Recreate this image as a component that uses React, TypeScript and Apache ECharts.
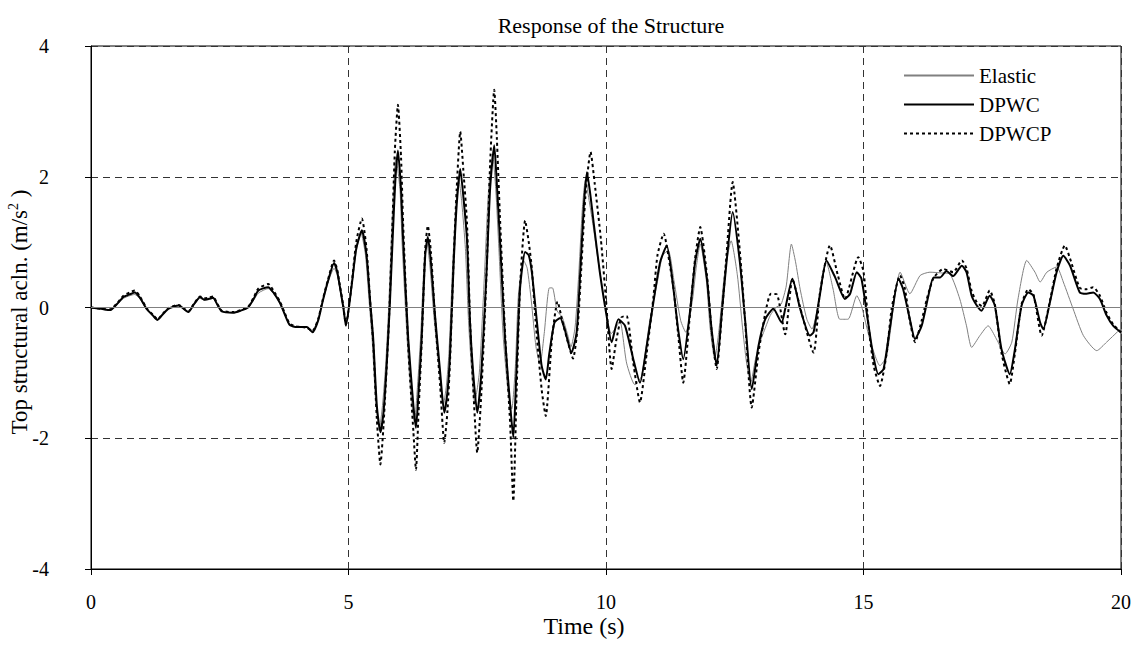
import React, { useEffect, useRef } from "react";
import * as echarts from "echarts";

const xTicks = [0, 5, 10, 15, 20];
const yTicks = [-4, -2, 0, 2, 4];

const elastic: [number, number][] = [
  [0, 0], [0.2, -0.02], [0.37, -0.04], [0.5, 0.04], [0.63, 0.14], [0.75, 0.18], [0.85, 0.2], [0.95, 0.13],
  [1.08, -0.02], [1.2, -0.12], [1.29, -0.18], [1.4, -0.1], [1.5, -0.02], [1.7, 0.03], [1.89, -0.07], [2.0, 0.04],
  [2.12, 0.14], [2.2, 0.11], [2.28, 0.12], [2.37, 0.14], [2.45, 0.04], [2.54, -0.06], [2.76, -0.08], [2.9, -0.05],
  [3.05, 0], [3.15, 0.1], [3.25, 0.22], [3.44, 0.29], [3.55, 0.21], [3.67, 0.06], [3.76, -0.1], [3.86, -0.26],
  [4.0, -0.3], [4.19, -0.3], [4.3, -0.35], [4.41, -0.18], [4.5, 0.1], [4.6, 0.38], [4.72, 0.6], [4.78, 0.5],
  [4.83, 0.3], [4.9, 0], [4.95, -0.25], [5.06, 0.3], [5.15, 0.85], [5.24, 1.15], [5.33, 0.8], [5.4, 0.1],
  [5.46, -0.5], [5.53, -1.45], [5.6, -1.85], [5.66, -1.5], [5.72, -0.9], [5.78, 0.0], [5.84, 1.2], [5.92, 2.3],
  [6.0, 1.8], [6.04, 1.0], [6.14, -0.5], [6.22, -1.4], [6.28, -1.75], [6.34, -1.2], [6.4, -0.45], [6.47, 0.7],
  [6.52, 1.0], [6.58, 0.65], [6.66, -0.15], [6.76, -0.95], [6.84, -1.5], [6.9, -1.2], [6.95, -0.7], [7.02, 0.6],
  [7.08, 1.5], [7.14, 1.98], [7.2, 1.6], [7.27, 0.9], [7.33, -0.2], [7.39, -0.95], [7.45, -1.45], [7.54, -1.0],
  [7.64, 0.5], [7.72, 1.8], [7.8, 2.33], [7.86, 1.8], [7.92, 0.9], [8.0, -0.4], [8.1, -1.3], [8.17, -1.55],
  [8.24, -0.9], [8.3, 0.2], [8.4, 0.72], [8.47, 0.6], [8.55, 0.1], [8.64, -0.6], [8.72, -0.87], [8.8, -0.4],
  [8.9, 0.3], [8.96, 0.3], [9.05, -0.05], [9.15, -0.15], [9.25, -0.4], [9.32, -0.6], [9.4, -0.3], [9.47, 0.5],
  [9.54, 1.5], [9.6, 1.95], [9.68, 1.6], [9.75, 1.25], [9.85, 0.7], [9.94, 0.24], [10.03, -0.2], [10.1, -0.4],
  [10.2, -0.3], [10.27, -0.2], [10.4, -0.85], [10.56, -1.18], [10.69, -1.05], [10.85, -0.2], [11.0, 0.4],
  [11.1, 0.8], [11.21, 0.87], [11.32, 0.41], [11.45, -0.2], [11.55, -0.38], [11.68, 0.12], [11.75, 0.6],
  [11.83, 0.97], [11.95, 0.4], [12.02, -0.3], [12.11, -0.79], [12.2, -0.3], [12.3, 0.5], [12.43, 1.02],
  [12.55, 0.5], [12.65, -0.3], [12.73, -0.85], [12.81, -1.15], [12.9, -0.8], [12.99, -0.53], [13.1, -0.3],
  [13.19, -0.12], [13.3, 0.0], [13.4, 0.05], [13.5, 0.33], [13.6, 0.97], [13.68, 0.7], [13.77, 0.28],
  [13.9, -0.18], [14.0, -0.33], [14.12, 0.03], [14.28, 0.69], [14.41, 0.28], [14.54, -0.18], [14.7, -0.18],
  [14.87, 0.18], [14.96, 0.03], [15.12, -0.48], [15.32, -0.89], [15.45, -0.74], [15.61, 0.18], [15.71, 0.54],
  [15.9, 0.21], [16.1, 0.49], [16.29, 0.54], [16.49, 0.53], [16.68, 0.51], [16.87, 0.13], [17.0, -0.28],
  [17.1, -0.61], [17.26, -0.43], [17.42, -0.28], [17.58, -0.48], [17.75, -0.71], [17.88, -0.53], [18.0, 0.13],
  [18.17, 0.72], [18.33, 0.54], [18.43, 0.39], [18.56, 0.54], [18.75, 0.62], [18.88, 0.39], [19.07, -0.02],
  [19.27, -0.43], [19.53, -0.66], [19.72, -0.53], [20, -0.32],
];

const dpwc: [number, number][] = [
  [0, 0], [0.2, -0.02], [0.37, -0.04], [0.5, 0.05], [0.63, 0.16], [0.75, 0.2], [0.85, 0.23], [0.95, 0.15],
  [1.08, -0.02], [1.2, -0.12], [1.29, -0.19], [1.4, -0.1], [1.5, -0.02], [1.7, 0.03], [1.89, -0.07], [2.0, 0.05],
  [2.12, 0.16], [2.2, 0.12], [2.28, 0.13], [2.37, 0.15], [2.45, 0.05], [2.54, -0.06], [2.76, -0.08], [2.9, -0.05],
  [3.05, 0], [3.15, 0.12], [3.25, 0.26], [3.44, 0.31], [3.55, 0.22], [3.67, 0.07], [3.76, -0.1], [3.86, -0.27],
  [4.0, -0.3], [4.19, -0.3], [4.3, -0.38], [4.41, -0.2], [4.5, 0.1], [4.6, 0.4], [4.72, 0.68], [4.78, 0.55],
  [4.83, 0.33], [4.9, 0], [4.95, -0.28], [5.06, 0.33], [5.15, 0.9], [5.26, 1.18], [5.35, 0.8], [5.42, 0.1],
  [5.48, -0.48], [5.55, -1.5], [5.62, -1.91], [5.68, -1.6], [5.74, -0.9], [5.8, 0.0], [5.86, 1.1], [5.91, 1.95],
  [5.96, 2.4], [6.02, 1.8], [6.06, 1.05], [6.16, -0.48], [6.26, -1.5], [6.31, -1.84], [6.36, -1.3], [6.42, -0.48],
  [6.49, 0.8], [6.54, 1.08], [6.6, 0.7], [6.68, -0.12], [6.78, -0.99], [6.86, -1.61], [6.92, -1.3], [6.97, -0.74],
  [7.04, 0.64], [7.1, 1.56], [7.17, 2.12], [7.23, 1.7], [7.3, 1.05], [7.36, -0.23], [7.42, -0.99], [7.5, -1.61],
  [7.58, -0.99], [7.68, 0.54], [7.75, 1.82], [7.83, 2.48], [7.88, 1.9], [7.94, 1.05], [8.04, -0.48], [8.14, -1.5],
  [8.2, -1.99], [8.26, -0.99], [8.33, 0.28], [8.43, 0.85], [8.5, 0.8], [8.56, 0.54], [8.66, -0.23], [8.75, -0.89],
  [8.83, -1.1], [8.9, -0.7], [9.0, -0.23], [9.11, -0.16], [9.2, -0.34], [9.33, -0.69], [9.43, -0.38], [9.5, 0.54],
  [9.57, 1.56], [9.63, 2.07], [9.7, 1.7], [9.76, 1.3], [9.88, 0.54], [10.01, -0.12], [10.11, -0.53], [10.24, -0.18],
  [10.37, -0.28], [10.53, -0.79], [10.66, -1.15], [10.79, -0.59], [10.92, 0.08], [11.05, 0.69], [11.18, 0.95],
  [11.31, 0.28], [11.4, -0.33], [11.5, -0.79], [11.63, -0.07], [11.73, 0.69], [11.83, 1.05], [11.96, 0.44],
  [12.05, -0.33], [12.15, -0.89], [12.25, -0.07], [12.34, 0.69], [12.46, 1.46], [12.6, 0.69], [12.7, -0.18],
  [12.83, -1.25], [12.96, -0.59], [13.09, -0.18], [13.25, -0.02], [13.41, -0.23], [13.48, -0.02], [13.62, 0.44],
  [13.77, -0.02], [13.96, -0.43], [14.03, -0.38], [14.15, 0.18], [14.28, 0.72], [14.45, 0.46], [14.64, 0.13],
  [14.74, 0.21], [14.87, 0.54], [14.96, 0.44], [15.09, -0.23], [15.19, -0.74], [15.29, -1.02], [15.39, -0.94],
  [15.51, -0.33], [15.68, 0.44], [15.77, 0.28], [15.9, -0.18], [16.0, -0.48], [16.13, -0.28], [16.26, 0.18],
  [16.36, 0.46], [16.49, 0.46], [16.61, 0.56], [16.74, 0.48], [16.91, 0.64], [17.0, 0.54], [17.1, 0.18],
  [17.2, 0.03], [17.29, -0.05], [17.45, 0.18], [17.55, 0.03], [17.68, -0.64], [17.84, -1.02], [17.94, -0.64],
  [18.07, 0.03], [18.2, 0.23], [18.3, 0.18], [18.43, -0.23], [18.49, -0.33], [18.62, 0.08], [18.75, 0.54],
  [18.88, 0.79], [19.01, 0.64], [19.2, 0.23], [19.33, 0.21], [19.46, 0.23], [19.59, 0.13], [19.72, -0.12],
  [19.85, -0.28], [20, -0.38],
];

const dpwcp: [number, number][] = [
  [0, 0], [0.2, -0.02], [0.37, -0.03], [0.5, 0.06], [0.63, 0.18], [0.75, 0.23], [0.85, 0.26], [0.95, 0.17],
  [1.08, -0.01], [1.2, -0.11], [1.29, -0.18], [1.4, -0.09], [1.5, -0.01], [1.7, 0.04], [1.89, -0.06], [2.0, 0.06],
  [2.12, 0.17], [2.2, 0.14], [2.28, 0.15], [2.37, 0.17], [2.45, 0.06], [2.54, -0.05], [2.76, -0.07], [2.9, -0.04],
  [3.05, 0.01], [3.15, 0.14], [3.25, 0.29], [3.44, 0.36], [3.55, 0.25], [3.67, 0.09], [3.76, -0.08], [3.86, -0.25],
  [4.0, -0.29], [4.19, -0.31], [4.3, -0.36], [4.41, -0.18], [4.5, 0.12], [4.6, 0.42], [4.72, 0.72], [4.78, 0.58],
  [4.83, 0.35], [4.9, 0.02], [4.95, -0.26], [5.06, 0.35], [5.15, 1.0], [5.26, 1.36], [5.35, 0.9], [5.42, 0.1],
  [5.48, -0.55], [5.55, -1.7], [5.62, -2.4], [5.68, -1.8], [5.78, -0.3], [5.85, 1.2], [5.9, 2.4], [5.96, 3.1],
  [6.02, 2.3], [6.06, 1.3], [6.16, -0.6], [6.26, -1.9], [6.31, -2.48], [6.36, -1.6], [6.42, -0.55], [6.49, 0.9],
  [6.54, 1.25], [6.6, 0.85], [6.68, -0.15], [6.78, -1.2], [6.86, -2.07], [6.92, -1.6], [6.97, -0.85], [7.04, 0.7],
  [7.1, 1.8], [7.17, 2.69], [7.23, 2.1], [7.3, 1.3], [7.36, -0.2], [7.42, -1.2], [7.5, -2.22], [7.58, -1.3],
  [7.68, 0.5], [7.75, 2.2], [7.83, 3.33], [7.88, 2.6], [7.94, 1.4], [8.04, -0.4], [8.14, -1.8], [8.2, -2.96],
  [8.26, -1.4], [8.33, 0.3], [8.43, 1.33], [8.5, 1.0], [8.56, 0.6], [8.63, -0.18], [8.75, -1.25], [8.83, -1.66],
  [8.95, -0.48], [9.06, 0.09], [9.15, -0.2], [9.25, -0.5], [9.36, -0.78], [9.45, -0.3], [9.52, 0.6], [9.6, 1.7],
  [9.7, 2.38], [9.78, 1.9], [9.9, 1.05], [10.0, 0.12], [10.11, -0.94], [10.2, -0.5], [10.3, -0.15], [10.4, -0.13],
  [10.53, -0.85], [10.66, -1.45], [10.79, -0.7], [10.92, 0.15], [11.0, 0.8], [11.12, 1.13], [11.25, 0.6],
  [11.31, 0.3], [11.4, -0.4], [11.5, -1.15], [11.63, -0.1], [11.73, 0.75], [11.83, 1.23], [11.96, 0.5],
  [12.05, -0.35], [12.15, -0.94], [12.25, -0.1], [12.34, 0.8], [12.46, 1.92], [12.6, 0.85], [12.7, -0.2],
  [12.83, -1.53], [12.96, -0.7], [13.09, -0.1], [13.2, 0.21], [13.32, 0.2], [13.48, -0.41], [13.62, 0.44],
  [13.77, 0.0], [14.03, -0.69], [14.15, 0.2], [14.35, 0.95], [14.5, 0.5], [14.64, 0.13], [14.9, 0.77],
  [15.0, 0.55], [15.1, -0.3], [15.2, -0.9], [15.32, -1.2], [15.45, -0.7], [15.55, 0.0], [15.71, 0.49],
  [15.8, 0.3], [15.9, -0.2], [16.0, -0.53], [16.13, -0.2], [16.23, 0.13], [16.36, 0.45], [16.55, 0.59],
  [16.74, 0.54], [16.91, 0.72], [17.0, 0.6], [17.1, 0.25], [17.2, 0.08], [17.3, 0.02], [17.45, 0.26],
  [17.55, 0.05], [17.68, -0.7], [17.84, -1.17], [17.94, -0.7], [18.07, 0.05], [18.2, 0.28], [18.3, 0.2],
  [18.46, -0.43], [18.62, 0.1], [18.75, 0.6], [18.91, 0.95], [19.01, 0.75], [19.2, 0.3], [19.33, 0.28],
  [19.46, 0.31], [19.59, 0.18], [19.72, -0.08], [19.85, -0.26], [20, -0.38],
];

const FONT = "'Liberation Serif', 'Times New Roman', serif";

export default function App() {
  const ref = useRef<HTMLDivElement>(null);
  useEffect(() => {
    if (!ref.current) return;
    const chart = echarts.init(ref.current, undefined, { renderer: "svg" });
    chart.setOption({
      animation: false,
      backgroundColor: "#ffffff",
      textStyle: { fontFamily: FONT, color: "#000" },
      title: {
        text: "Response of the Structure",
        left: 606,
        top: 9,
        textAlign: "center",
        textStyle: { fontFamily: FONT, fontSize: 22, fontWeight: "normal", color: "#000" },
      },
      legend: {
        orient: "vertical",
        left: 898,
        top: 60,
        itemWidth: 70,
        itemHeight: 14,
        itemGap: 8,
        itemStyle: { opacity: 0 },
        textStyle: { fontFamily: FONT, fontSize: 21, lineHeight: 21, color: "#000" },
        data: ["Elastic", "DPWC", "DPWCP"],
      },
      graphic: [
        {
          type: "text",
          x: 19,
          y: 312,
          rotation: Math.PI / 2,
          style: {
            text: "{a|Top structural acln. (m/s}{sup|2}{a| )}",
            align: "center",
            verticalAlign: "middle",
            fill: "#000",
            rich: {
              a: { fontFamily: FONT, fontSize: 23, fill: "#000", color: "#000" },
              sup: { fontFamily: FONT, fontSize: 14, fill: "#000", color: "#000", padding: [0, 0, 12, 0] },
            },
          },
        },
      ],
      grid: {
        left: 91,
        right: 17,
        top: 46,
        bottom: 80,
        outerBoundsMode: "none",
        containLabel: false,
        show: true,
        borderColor: "#000",
        borderWidth: 1,
        backgroundColor: "transparent",
      },
      xAxis: {
        type: "value",
        min: xTicks[0],
        max: xTicks[xTicks.length - 1],
        interval: 5,
        name: "Time (s)",
        nameLocation: "middle",
        nameGap: 45,
        nameMoveOverlap: false,
        nameTextStyle: { fontFamily: FONT, fontSize: 24, color: "#000", padding: [0, 44, 0, 0] },
        axisLine: { show: true, onZero: false, lineStyle: { color: "#000", width: 1 } },
        axisTick: { show: true, length: 6, lineStyle: { color: "#000" } },
        axisLabel: { fontFamily: FONT, fontSize: 20, color: "#000", margin: 23 },
        splitLine: { show: true, lineStyle: { color: "#333", type: [7, 5], width: 1 } },
      },
      yAxis: {
        type: "value",
        min: yTicks[0],
        max: yTicks[yTicks.length - 1],
        interval: 2,
        axisLine: { show: true, lineStyle: { color: "#000", width: 1 } },
        axisTick: { show: true, length: 6, lineStyle: { color: "#000" } },
        axisLabel: { fontFamily: FONT, fontSize: 20, color: "#000", margin: 42 },
        splitLine: { show: true, lineStyle: { color: "#333", type: [7, 5], width: 1 } },
      },
      series: [
        {
          name: "Elastic",
          type: "line",
          data: elastic,
          symbol: "none",
          smooth: 0.2,
          lineStyle: { color: "#808080", width: 1 },
          itemStyle: { color: "#808080" },
          markLine: {
            silent: true,
            symbol: "none",
            label: { show: false },
            lineStyle: { color: "#808080", type: "solid", width: 1 },
            data: [{ yAxis: 0 }],
          },
        },
        {
          name: "DPWC",
          type: "line",
          data: dpwc,
          symbol: "none",
          smooth: 0.2,
          lineStyle: { color: "#000", width: 2 },
          itemStyle: { color: "#000" },
        },
        {
          name: "DPWCP",
          type: "line",
          data: dpwcp,
          symbol: "none",
          smooth: 0.2,
          lineStyle: { color: "#000", width: 2, type: [3, 3] },
          itemStyle: { color: "#000" },
        },
      ],
    });
    return () => chart.dispose();
  }, []);
  return (
    <div
      ref={ref}
      style={{ position: "fixed", left: 0, top: 0, width: 1138, height: 649, background: "#fff" }}
    />
  );
}
